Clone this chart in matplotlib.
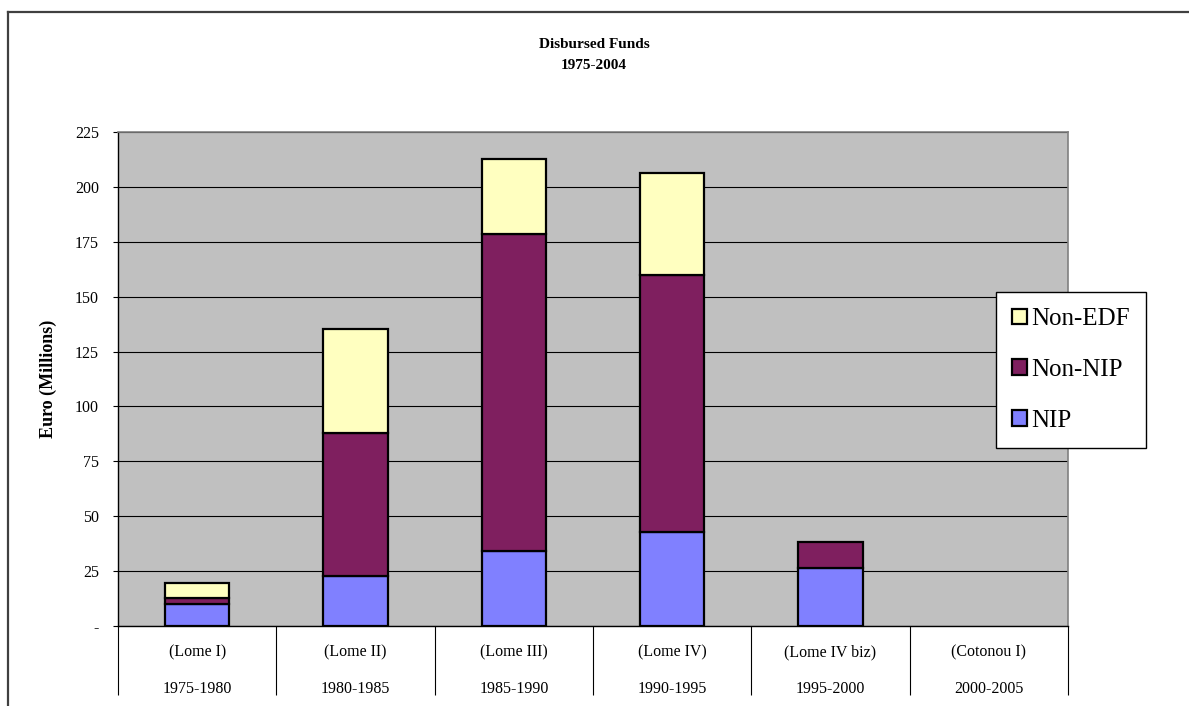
import matplotlib.pyplot as plt
from matplotlib.lines import Line2D
import numpy as np

# data (Euro millions)
periods = ['(Lome I)', '(Lome II)', '(Lome III)', '(Lome IV)', '(Lome IV biz)', '(Cotonou I)']
years = ['1975-1980', '1980-1985', '1985-1990', '1990-1995', '1995-2000', '2000-2005']
nip = [9.9, 22.9, 34.2, 42.7, 26.4, 0]
non_nip = [2.7, 64.8, 144.3, 117.0, 11.9, 0]
non_edf = [7.1, 47.5, 34.1, 46.7, 0, 0]

yticks = [0, 25, 50, 75, 100, 125, 150, 175, 200, 225]
ytick_labels = ['-'] + [str(v) for v in yticks[1:]]

plt.rcParams['font.family'] = ['Liberation Serif', 'DejaVu Serif']

dpi = 100
fig = plt.figure(figsize=(1189 / dpi, 706 / dpi), dpi=dpi)
ax = fig.add_axes([118 / 1189, 1 - 626 / 706, 950 / 1189, 494 / 706])
ax.set_facecolor('#C0C0C0')

x = np.arange(len(periods))
w = 0.405
kw = dict(width=w, edgecolor='black', linewidth=1.6, zorder=3)
b1 = ax.bar(x, nip, color='#8080FF', label='NIP', **kw)
b2 = ax.bar(x, non_nip, bottom=nip, color='#7F1F5F', label='Non-NIP', **kw)
bottom2 = np.array(nip) + np.array(non_nip)
b3 = ax.bar(x, non_edf, bottom=bottom2, color='#FFFFC0', label='Non-EDF', **kw)
# hide zero-height segments
for bars, vals in ((b1, nip), (b2, non_nip), (b3, non_edf)):
    for r, v in zip(bars, vals):
        if v == 0:
            r.set_visible(False)

ax.set_xlim(-0.5, len(periods) - 0.5)
ax.set_ylim(0, 225)
ax.set_yticks(yticks)
ax.set_yticklabels(ytick_labels, fontsize=11.5)
ax.yaxis.grid(True, color='black', linewidth=0.8, zorder=1)
ax.set_axisbelow(True)
ax.tick_params(axis='y', direction='out', length=3.6, width=0.8, pad=10)

# category table below the axis
ax.set_xticks([])
ax.set_xticks(np.arange(-0.5, len(periods)), minor=True)
ax.tick_params(axis='x', which='minor', direction='out', length=50, width=0.8, labelbottom=False)
for i in range(len(periods)):
    ax.text(i, -0.0625, periods[i], transform=ax.get_xaxis_transform(),
            ha='center', va='baseline', fontsize=11.5)
    ax.text(i, -0.1355, years[i], transform=ax.get_xaxis_transform(),
            ha='center', va='baseline', fontsize=11.5)

for s in ('left', 'bottom'):
    ax.spines[s].set_color('black')
    ax.spines[s].set_linewidth(1)
for s in ('top', 'right'):
    ax.spines[s].set_color('#808080')
    ax.spines[s].set_linewidth(1.2)

fig.text(48 / 1189, 1 - 379 / 706, 'Euro (Millions)', rotation=90, ha='center', va='center',
         fontsize=13, fontweight='bold')
fig.text(594 / 1189, 1 - 55 / 706, 'Disbursed Funds\n1975-2004', ha='center', va='center',
         fontsize=11, fontweight='bold', linespacing=1.85)

leg = fig.legend([b3, b2, b1], ['Non-EDF', 'Non-NIP', 'NIP'], loc='upper left',
                 bbox_to_anchor=(996 / 1189, 1 - 292 / 706), fontsize=18,
                 handlelength=0.6, handleheight=0.6, handletextpad=0.15,
                 labelspacing=1.15, borderpad=0.65, fancybox=False, framealpha=1,
                 edgecolor='black', borderaxespad=0)
leg.get_frame().set_linewidth(1)

# outer chart border
fig.add_artist(Line2D([8 / 1189, 1], [1 - 12 / 706] * 2, transform=fig.transFigure,
                      color='#404040', linewidth=1.6))
fig.add_artist(Line2D([8 / 1189] * 2, [0, 1 - 12 / 706], transform=fig.transFigure,
                      color='#404040', linewidth=1.6))

plt.savefig('out.png', dpi=dpi)
plt.close()
